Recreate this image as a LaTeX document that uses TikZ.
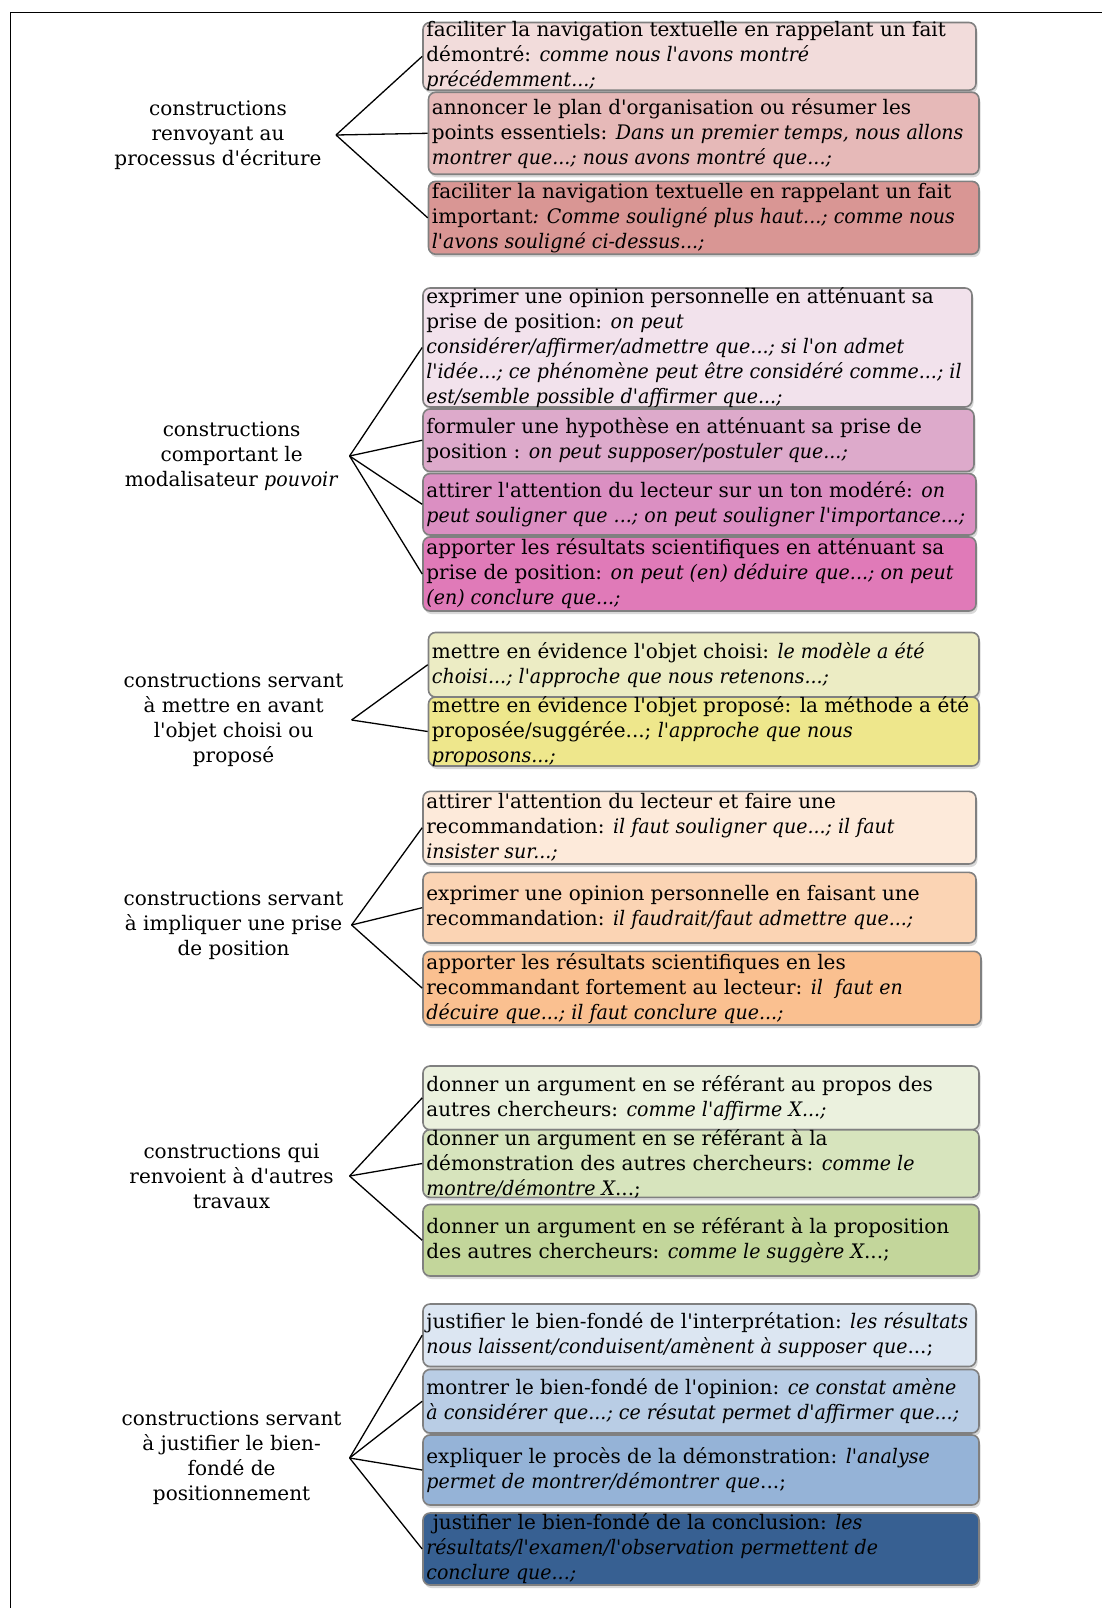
\documentclass[tikz,border=0pt]{standalone}
\usepackage{fontspec}
\setmainfont{DejaVu Serif}[Ligatures=TeXOff, ItalicFeatures={FakeStretch=0.95}]
\usepackage{xcolor}
\usetikzlibrary{shadows,fit}

\definecolor{rose1}{HTML}{F2DCDB}
\definecolor{rose2}{HTML}{E6B9B8}
\definecolor{rose3}{HTML}{D99694}
\definecolor{mauve1}{HTML}{F2E2EC}
\definecolor{mauve2}{HTML}{DDAACB}
\definecolor{mauve3}{HTML}{DB8FC2}
\definecolor{mauve4}{HTML}{E07AB8}
\definecolor{olive1}{HTML}{ECECC4}
\definecolor{olive2}{HTML}{EEE78C}
\definecolor{peach1}{HTML}{FDEADA}
\definecolor{peach2}{HTML}{FBD4B4}
\definecolor{peach3}{HTML}{FAC090}
\definecolor{green1}{HTML}{EBF1DE}
\definecolor{green2}{HTML}{D7E4BD}
\definecolor{green3}{HTML}{C3D69B}
\definecolor{blue1}{HTML}{DCE6F2}
\definecolor{blue2}{HTML}{B9CDE5}
\definecolor{blue3}{HTML}{95B3D7}
\definecolor{blue4}{HTML}{376092}

\begin{document}
\begin{tikzpicture}[x=1pt,y=-1pt,
    itembox/.style={draw=black!50, line width=1.6pt, rounded corners=7pt, inner sep=0pt,
        drop shadow={shadow xshift=1.5pt, shadow yshift=-3pt, opacity=0.3}},
    itemtext/.style={anchor=west, align=left, inner sep=0pt, font=\fontsize{20}{25}\selectfont},
    grouptext/.style={align=center, inner sep=0pt, font=\fontsize{20}{25}\selectfont},
    link/.style={line width=1.3pt}]
    \useasboundingbox (0,0) rectangle (1102,1608);
    \draw[line width=1.2pt] (10.3,1608) -- (10.3,12.3) -- (1102,12.3);

    % processus d'ecriture
    \coordinate (h1) at (336,135);
    \node[grouptext] (g1) at ([xshift=-118pt]h1) {constructions\\renvoyant au\\processus d'écriture};
    \node[itembox, fill=rose1, fit={(423,22.5) (976,90.2)}] (b1a) {};
    \node[itemtext] (t1a) at ([xshift=4pt]b1a.west) {faciliter la navigation textuelle en rappelant un fait\\démontré: \textit{comme nous l'avons montré}\\\textit{précédemment...;}};
    \node[itembox, fill=rose2, fit={(428.5,92.3) (979,174.3)}] (b1b) {};
    \node[itemtext] (t1b) at ([xshift=4pt]b1b.west) {annoncer le plan d'organisation ou résumer les\\points essentiels: \textit{Dans un premier temps, nous allons}\\\textit{montrer que...; nous avons montré que...;}};
    \node[itembox, fill=rose3, fit={(428.5,181.4) (979,254.2)}] (b1c) {};
    \node[itemtext] (t1c) at ([xshift=4pt]b1c.west) {faciliter la navigation textuelle en rappelant un fait\\important\textit{: Comme souligné plus haut...; comme nous}\\\textit{l'avons souligné ci-dessus...;}};
    \foreach \b in {b1a,b1b,b1c} \draw[link] (h1) -- (\b.west);

    % modalisateur pouvoir
    \coordinate (h2) at (349.6,456);
    \node[grouptext] (g2) at ([xshift=-118pt]h2) {constructions\\comportant le\\modalisateur \textit{pouvoir}};
    \node[itembox, fill=mauve1, fit={(423,288) (972,407)}] (b2a) {};
    \node[itemtext] (t2a) at ([xshift=4pt]b2a.west) {exprimer une opinion personnelle en atténuant sa\\prise de position: \textit{on peut}\\\textit{considérer/affirmer/admettre que...; si l'on admet}\\\textit{l'idée...; ce phénomène peut être considéré comme...; il}\\\textit{est/semble possible d'affirmer que...;}};
    \node[itembox, fill=mauve2, fit={(423,409) (974,471.5)}] (b2b) {};
    \node[itemtext] (t2b) at ([xshift=4pt]b2b.west) {formuler une hypothèse en atténuant sa prise de\\position : \textit{on peut supposer/postuler que...;}};
    \node[itembox, fill=mauve3, fit={(423,473.6) (976,535)}] (b2c) {};
    \node[itemtext] (t2c) at ([xshift=4pt]b2c.west) {attirer l'attention du lecteur sur un ton modéré: \textit{on}\\\textit{peut souligner que ...; on peut souligner l'importance...;}};
    \node[itembox, fill=mauve4, fit={(423,537) (976,611)}] (b2d) {};
    \node[itemtext] (t2d) at ([xshift=4pt]b2d.west) {apporter les résultats scientifiques en atténuant sa\\prise de position: \textit{on peut (en) déduire que...; on peut}\\\textit{(en) conclure que...;}};
    \foreach \b in {b2a,b2b,b2c,b2d} \draw[link] (h2) -- (\b.west);

    % objet choisi ou propose
    \coordinate (h3) at (351.6,720);
    \node[grouptext] (g3) at ([xshift=-118pt]h3) {constructions servant\\à mettre en avant\\l'objet choisi ou\\proposé};
    \node[itembox, fill=olive1, fit={(428.5,632.5) (979,697)}] (b3a) {};
    \node[itemtext] (t3a) at ([xshift=4pt]b3a.west) {mettre en évidence l'objet choisi: \textit{le modèle a été}\\\textit{choisi...; l'approche que nous retenons...;}};
    \node[itembox, fill=olive2, fit={(428.5,697) (979,766)}] (b3b) {};
    \node[itemtext] (t3b) at ([xshift=4pt]b3b.west) {mettre en évidence l'objet proposé: la méthode a été\\proposée/suggérée...; \textit{l'approche que nous}\\\textit{proposons...;}};
    \foreach \b in {b3a,b3b} \draw[link] (h3) -- (\b.west);

    % prise de position
    \coordinate (h4) at (351.6,925);
    \node[grouptext] (g4) at ([xshift=-118pt]h4) {constructions servant\\à impliquer une prise\\de position};
    \node[itembox, fill=peach1, fit={(423,791.4) (976,864)}] (b4a) {};
    \node[itemtext] (t4a) at ([xshift=4pt]b4a.west) {attirer l'attention du lecteur et faire une\\recommandation: \textit{il faut souligner que...; il faut}\\\textit{insister sur...;}};
    \node[itembox, fill=peach2, fit={(423,872.4) (976,943)}] (b4b) {};
    \node[itemtext] (t4b) at ([xshift=4pt]b4b.west) {exprimer une opinion personnelle en faisant une\\recommandation: \textit{il faudrait/faut admettre que...;}};
    \node[itembox, fill=peach3, fit={(423,951.3) (981,1025)}] (b4c) {};
    \node[itemtext] (t4c) at ([xshift=4pt]b4c.west) {apporter les résultats scientifiques en les\\recommandant fortement au lecteur: \textit{il\ \ faut en}\\\textit{décuire que...; il faut conclure que...;}};
    \foreach \b in {b4a,b4b,b4c} \draw[link] (h4) -- (\b.west);

    % autres travaux
    \coordinate (h5) at (349.6,1176);
    \node[grouptext] (g5) at ([xshift=-118pt]h5) {constructions qui\\renvoient à d'autres\\travaux};
    \node[itembox, fill=green1, fit={(423,1066) (979,1129.7)}] (b5a) {};
    \node[itemtext] (t5a) at ([xshift=4pt]b5a.west) {donner un argument en se référant au propos des\\autres chercheurs: \textit{comme l'affirme X...;}};
    \node[itembox, fill=green2, fit={(423,1129.7) (979,1197.3)}] (b5b) {};
    \node[itemtext] (t5b) at ([xshift=4pt]b5b.west) {donner un argument en se référant à la\\démonstration des autres chercheurs: \textit{comme le}\\\textit{montre/démontre X}...;};
    \node[itembox, fill=green3, fit={(423,1204.5) (979,1276)}] (b5c) {};
    \node[itemtext] (t5c) at ([xshift=4pt]b5c.west) {donner un argument en se référant à la proposition\\des autres chercheurs: \textit{comme le suggère X}...;};
    \foreach \b in {b5a,b5b,b5c} \draw[link] (h5) -- (\b.west);

    % bien-fonde
    \coordinate (h6) at (349.6,1458);
    \node[grouptext] (g6) at ([xshift=-118pt]h6) {constructions servant\\à justifier le bien-\\fondé de\\positionnement};
    \node[itembox, fill=blue1, fit={(423,1304) (976,1366.5)}] (b6a) {};
    \node[itemtext] (t6a) at ([xshift=4pt]b6a.west) {justifier le bien-fondé de l'interprétation: \textit{les résultats}\\\textit{nous laissent/conduisent/amènent à supposer que}...;};
    \node[itembox, fill=blue2, fit={(423,1369.5) (979,1433)}] (b6b) {};
    \node[itemtext] (t6b) at ([xshift=4pt]b6b.west) {montrer le bien-fondé de l'opinion: \textit{ce constat amène}\\\textit{à considérer que...; ce résutat permet d'affirmer que...;}};
    \node[itembox, fill=blue3, fit={(423,1435) (979,1505)}] (b6c) {};
    \node[itemtext] (t6c) at ([xshift=4pt]b6c.west) {expliquer le procès de la démonstration: \textit{l'analyse}\\\textit{permet de montrer/démontrer que}...;};
    \node[itembox, fill=blue4, fit={(423,1513) (979,1585)}] (b6d) {};
    \node[itemtext] (t6d) at ([xshift=4pt]b6d.west) {\ justifier le bien-fondé de la conclusion: \textit{les}\\\textit{résultats/l'examen/l'observation permettent de}\\\textit{conclure que...;}};
    \foreach \b in {b6a,b6b,b6c,b6d} \draw[link] (h6) -- (\b.west);
\end{tikzpicture}
\end{document}
